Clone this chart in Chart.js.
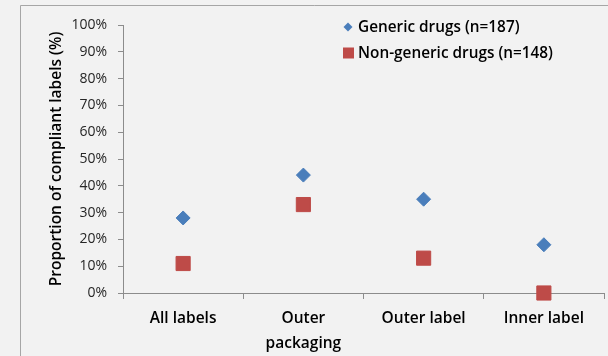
<!DOCTYPE html>
<html><head><meta charset="utf-8">
<style>html,body{margin:0;padding:0;background:#f2f2f2;}#wrap{width:608px;height:356px;position:relative;}</style>
<script src="https://cdn.jsdelivr.net/npm/chart.js@4.4.0/dist/chart.umd.min.js"></script>
</head><body><div id="wrap"><canvas id="c" width="608" height="356"></canvas></div>
<script>
const categories = [["All labels"], ["Outer", "packaging"], ["Outer label"], ["Inner label"]];
const genericLabel = "Generic drugs (n=187)";
const nonGenericLabel = "Non-generic drugs (n=148)";
const genericValues = [28, 44, 35, 18];
const nonGenericValues = [11, 33, 13, 0];
const yTicks = [0,10,20,30,40,50,60,70,80,90,100];

const FONT = "'Open Sans', 'Liberation Sans', sans-serif";
const BLUE = '#4a7ebb', RED = '#be4b48';

const frame = {
  id: 'frame',
  beforeDraw(chart) {
    const ctx = chart.ctx;
    ctx.save();
    ctx.fillStyle = '#f2f2f2';
    ctx.fillRect(0,0,chart.width,chart.height);
    ctx.strokeStyle = '#a6a6a6';
    ctx.lineWidth = 1;
    ctx.beginPath();
    ctx.moveTo(20.5, chart.height);
    ctx.lineTo(20.5, 5.5);
    ctx.lineTo(chart.width, 5.5);
    ctx.stroke();
    ctx.restore();
  }
};

const legendIn = {
  id: 'legendIn',
  afterDraw(chart) {
    const ctx = chart.ctx;
    ctx.save();
    let size = 15;
    ctx.font = "600 " + size + "px " + FONT;
    const w = Math.max(...chart.data.datasets.map(d => ctx.measureText(d.label).width));
    size = size * 195 / w;
    ctx.font = "600 " + size.toFixed(2) + "px " + FONT;
    ctx.textBaseline = 'middle';
    chart.data.datasets.forEach((ds, i) => {
      const y = 27 + i * 26;
      const x = 348;
      ctx.fillStyle = ds.backgroundColor;
      ctx.beginPath();
      if (ds.pointStyle === 'rectRot') {
        ctx.moveTo(x, y - 4.5); ctx.lineTo(x + 4.5, y); ctx.lineTo(x, y + 4.5); ctx.lineTo(x - 4.5, y);
        ctx.closePath(); ctx.fill();
      } else {
        ctx.fillRect(x - 5, y - 5.5, 11, 11);
      }
      ctx.fillStyle = '#000';
      ctx.fillText(ds.label, 358, y + 1);
    });
    ctx.restore();
  }
};

new Chart(document.getElementById('c'), {
  type: 'line',
  data: {
    labels: categories,
    datasets: [
      { label: genericLabel, data: genericValues, showLine: false, pointStyle: 'rectRot',
        pointRadius: 7, pointHoverRadius: 7, backgroundColor: BLUE, borderColor: BLUE, borderWidth: 1 },
      { label: nonGenericLabel, data: nonGenericValues, showLine: false, pointStyle: 'rect',
        pointRadius: 10, pointHoverRadius: 10, backgroundColor: RED, borderColor: RED, borderWidth: 1 }
    ]
  },
  options: {
    responsive: false,
    animation: false,
    clip: false,
    layout: { autoPadding: false, padding: { left: 20, right: 4, top: 25, bottom: 0 } },
    plugins: { legend: { display: false }, tooltip: { enabled: false } },
    scales: {
      x: {
        offset: true,
        grid: { offset: true, drawOnChartArea: false, tickLength: 6, color: '#8c8c8c' },
        border: { color: '#8c8c8c' },
        ticks: { color: '#000', font: { family: FONT, size: 15.5, weight: '600', lineHeight: 1.6 }, padding: 7, maxRotation: 0, autoSkip: false },
        afterFit(s) { s.height = 63; s.paddingLeft = 0; s.paddingRight = 0; }
      },
      y: {
        min: 0, max: 100,
        afterBuildTicks(s) { s.ticks = yTicks.map(v => ({ value: v })); },
        grid: { drawOnChartArea: false, tickLength: 5, color: '#8c8c8c' },
        border: { color: '#8c8c8c' },
        ticks: { color: '#262626', font: { family: FONT, size: 14 }, padding: 11, callback: v => v + '%' },
        title: { display: true, text: 'Proportion of compliant labels (%)', color: '#000',
          font: { family: FONT, size: 15.5, weight: '600' }, padding: { top: 27, bottom: 0 } },
        afterFit(s) { s.width = 103; }
      }
    }
  },
  plugins: [frame, legendIn]
});
</script></body></html>
